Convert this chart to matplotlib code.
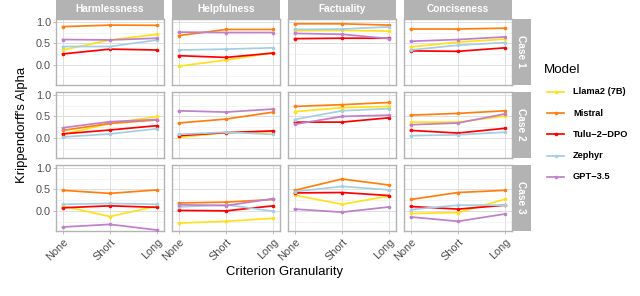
import matplotlib
matplotlib.use("Agg")
import matplotlib.pyplot as plt
from matplotlib.lines import Line2D

plt.rcParams['font.family'] = ['Liberation Sans', 'DejaVu Sans']

granularity = ["None", "Short", "Long"]
criteria = ["Harmlessness", "Helpfulness", "Factuality", "Conciseness"]
cases = ["Case 1", "Case 2", "Case 3"]
models = ["Llama2 (7B)", "Mistral", "Tulu\u22122\u2212DPO", "Zephyr", "GPT\u22123.5"]
colors = ["#FFE11A", "#FF7F0E", "#FF0000", "#A6CEE3", "#C07FCB"]

# values[case][criterion] = [None, Short, Long]
llama = [
    [[0.35, 0.58, 0.71], [-0.02, 0.12, 0.29], [0.79, 0.80, 0.78], [0.42, 0.53, 0.60]],
    [[0.09, 0.34, 0.50], [0.02, 0.13, 0.15], [0.61, 0.70, 0.73], [0.37, 0.37, 0.51]],
    [[0.12, -0.12, 0.12], [-0.27, -0.23, -0.16], [0.37, 0.16, 0.35], [-0.05, -0.03, 0.28]],
]
mistral = [
    [[0.885, 0.92, 0.915], [0.68, 0.82, 0.82], [0.95, 0.95, 0.92], [0.83, 0.83, 0.85]],
    [[0.18, 0.34, 0.42], [0.35, 0.44, 0.60], [0.73, 0.77, 0.82], [0.53, 0.57, 0.63]],
    [[0.48, 0.41, 0.49], [0.19, 0.21, 0.27], [0.48, 0.74, 0.60], [0.27, 0.43, 0.48]],
]
tulu = [
    [[0.26, 0.37, 0.35], [0.22, 0.18, 0.28], [0.61, 0.62, 0.62], [0.33, 0.32, 0.40]],
    [[0.10, 0.19, 0.29], [0.06, 0.13, 0.17], [0.37, 0.37, 0.47], [0.18, 0.12, 0.23]],
    [[0.08, 0.125, 0.09], [0.02, 0.01, 0.125], [0.42, 0.43, 0.36], [0.11, 0.05, 0.14]],
]
zephyr = [
    [[0.43, 0.43, 0.58], [0.35, 0.37, 0.40], [0.82, 0.83, 0.88], [0.35, 0.46, 0.52]],
    [[0.03, 0.10, 0.22], [0.09, 0.14, 0.09], [0.43, 0.63, 0.68], [0.06, 0.08, 0.14]],
    [[0.16, 0.18, 0.16], [0.10, 0.15, 0.00], [0.45, 0.57, 0.49], [0.04, 0.14, 0.14]],
]
gpt = [
    [[0.59, 0.58, 0.62], [0.76, 0.75, 0.75], [0.73, 0.71, 0.61], [0.55, 0.59, 0.65]],
    [[0.24, 0.38, 0.43], [0.63, 0.60, 0.67], [0.32, 0.50, 0.53], [0.31, 0.35, 0.56]],
    [[-0.36, -0.30, -0.43], [0.15, 0.13, 0.29], [0.05, -0.02, 0.10], [-0.13, -0.23, -0.06]],
]
series = [llama, mistral, tulu, zephyr, gpt]

W, H = 640, 296
fig = plt.figure(figsize=(W / 100, H / 100), dpi=100)

def box(x0, y0, w, h):
    return [x0 / W, 1 - (y0 + h) / H, w / W, h / H]

col_left = [56, 172, 288, 404]
row_top = [19, 92, 165]
pw, ph = 108, 65.5
border = "#B3B3B3"
strip_c = "#B3B3B3"

for r in range(3):
    for c in range(4):
        ax = fig.add_axes(box(col_left[c], row_top[r], pw, ph))
        ax.set_xlim(-0.14, 2.14)
        ax.set_ylim(-0.44, 1.06)
        ax.set_xticks([0, 1, 2])
        ax.set_yticks([0.0, 0.5, 1.0])
        ax.set_yticks([-0.25, 0.25, 0.75], minor=True)
        ax.grid(True, which='major', color='#DEDEDE', linewidth=0.7)
        ax.grid(True, which='minor', axis='y', color='#EEEEEE', linewidth=0.45)
        ax.set_axisbelow(True)
        for sp in ax.spines.values():
            sp.set_color(border)
            sp.set_linewidth(1.0)
        ax.tick_params(which='both', length=0)
        ax.tick_params(which='major', length=2.2, color=border, width=0.6)
        if c == 0:
            ax.set_yticklabels(["0.0", "0.5", "1.0"], fontsize=7.8, color='#4D4D4D')
            ax.tick_params(axis='y', pad=1.5)
        else:
            ax.set_yticklabels([])
            ax.tick_params(axis='y', length=0)
        if r == 2:
            ax.set_xticklabels(granularity, fontsize=7.8, color='#4D4D4D', rotation=45,
                               ha='right', va='top', rotation_mode='anchor')
            ax.tick_params(axis='x', pad=2)
        else:
            ax.set_xticklabels([])
            ax.tick_params(axis='x', length=0)
        for m, vals in enumerate(series):
            ax.plot([0, 1, 2], vals[r][c], color=colors[m], linewidth=1.25,
                    marker='o', markersize=2.6, markeredgewidth=0, zorder=3 + m * 0.01)

# column strips
for c in range(4):
    sax = fig.add_axes(box(col_left[c], 0, pw, 19))
    sax.set_xticks([]); sax.set_yticks([])
    sax.set_facecolor(strip_c)
    for sp in sax.spines.values():
        sp.set_visible(False)
    sax.text(0.5, 0.5, criteria[c], ha='center', va='center', color='white',
             fontsize=7.3, fontweight='bold', transform=sax.transAxes)

# row strips
for r in range(3):
    sax = fig.add_axes(box(512, row_top[r], 19, ph))
    sax.set_xticks([]); sax.set_yticks([])
    sax.set_facecolor(strip_c)
    for sp in sax.spines.values():
        sp.set_visible(False)
    sax.text(0.5, 0.5, cases[r], ha='center', va='center', color='white',
             fontsize=7.3, fontweight='bold', rotation=-90, transform=sax.transAxes)

# axis titles
fig.text(22 / W, 1 - 125 / H, "Krippendorff's Alpha", rotation=90, ha='center',
         va='center', fontsize=9.4, color='black')
fig.text(284 / W, 1 - 272 / H, "Criterion Granularity", ha='center', va='center',
         fontsize=9.4, color='black')

# legend
fig.text(544 / W, 1 - 70 / H, "Model", ha='left', va='center', fontsize=9.6, color='black')
for m in range(len(models)):
    yc = 92 + 21.2 * m
    fig.add_artist(Line2D([547 / W, 564 / W], [1 - yc / H, 1 - yc / H], color=colors[m],
                          linewidth=1.25, transform=fig.transFigure))
    fig.add_artist(Line2D([555.5 / W], [1 - yc / H], color=colors[m], marker='o',
                          markersize=2.6, markeredgewidth=0, transform=fig.transFigure))
    fig.text(573 / W, 1 - yc / H, models[m], ha='left', va='center', fontsize=6.7,
             fontweight='bold', color='black')

fig.savefig("out.png", dpi=100)
